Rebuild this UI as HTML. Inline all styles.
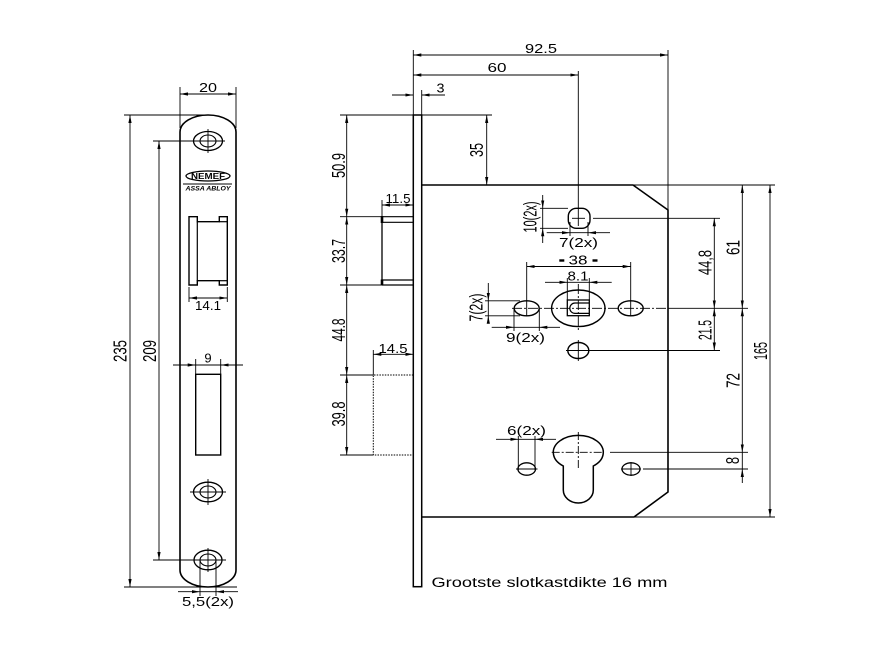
<!DOCTYPE html>
<html><head><meta charset="utf-8"><style>
html,body{margin:0;padding:0;background:#fff;}
svg{display:block;}
text{font-family:"Liberation Sans","DejaVu Sans",sans-serif;fill:#000;stroke:none;}
</style></head><body>
<svg width="890" height="650" viewBox="0 0 890 650" xmlns="http://www.w3.org/2000/svg">
<defs>
<marker id="a" viewBox="0 0 8 4" refX="8" refY="2" markerWidth="8" markerHeight="4" markerUnits="userSpaceOnUse" orient="auto-start-reverse"><path d="M0,0.4 L8,2 L0,3.6 Z" fill="#000"/></marker>
</defs>
<rect width="890" height="650" fill="#fff"/>
<g stroke="#000" fill="none" stroke-width="0.9">

<!-- LEFT FACEPLATE -->
<path d="M180,132 A28,17 0 0,1 236,132 V570 A28,17 0 0,1 180,570 Z" stroke-width="1.6"/>
<!-- 20 dim -->
<line x1="180" y1="87" x2="180" y2="128"/>
<line x1="236" y1="87" x2="236" y2="128"/>
<line x1="180" y1="94" x2="236" y2="94" marker-start="url(#a)" marker-end="url(#a)"/>
<!-- screws -->
<ellipse cx="208" cy="141" rx="14.5" ry="9.5" stroke-width="1.3"/>
<ellipse cx="208" cy="141" rx="8" ry="6" stroke-width="1.1"/>
<line x1="192" y1="141" x2="225" y2="141"/><line x1="208" y1="129" x2="208" y2="153"/>
<ellipse cx="208" cy="492" rx="14.5" ry="9.8" stroke-width="1.3"/>
<ellipse cx="208" cy="492" rx="8" ry="6" stroke-width="1.1"/>
<line x1="190" y1="492" x2="226" y2="492"/><line x1="208" y1="479" x2="208" y2="505"/>
<ellipse cx="208" cy="560" rx="14" ry="9.8" stroke-width="1.3"/>
<ellipse cx="208" cy="560" rx="8" ry="6" stroke-width="1.1"/>
<line x1="208" y1="548" x2="208" y2="572"/>
<!-- NEMEF logo -->
<ellipse cx="208" cy="176" rx="22" ry="5" stroke-width="1.3"/>
<line x1="183" y1="184" x2="232" y2="184" stroke-width="1"/>
<!-- latch opening -->
<path d="M189,216.7 H197.3 V221.7 H219.3 V216.7 H227.3 V285 H219.3 V280.7 H197.3 V285 H189 Z" stroke-width="1.4"/>
<line x1="197.3" y1="221.7" x2="197.3" y2="280.7" stroke-width="1.2"/>
<line x1="219.3" y1="221.7" x2="227.3" y2="221.7" stroke-width="1.2"/>
<line x1="219.3" y1="280.7" x2="227.3" y2="280.7" stroke-width="1.2"/>
<!-- 14.1 -->
<line x1="189" y1="287" x2="189" y2="302"/>
<line x1="227.3" y1="287" x2="227.3" y2="302"/>
<line x1="189" y1="298" x2="227.3" y2="298" marker-start="url(#a)" marker-end="url(#a)"/>
<!-- deadbolt opening -->
<rect x="195.7" y="374.3" width="25" height="80.7" stroke-width="1.4"/>
<line x1="195.7" y1="359" x2="195.7" y2="374"/>
<line x1="220.7" y1="359" x2="220.7" y2="374"/>
<line x1="173" y1="365" x2="195.7" y2="365" marker-end="url(#a)"/>
<line x1="243" y1="365" x2="220.7" y2="365" marker-end="url(#a)"/>
<line x1="195.7" y1="365" x2="220.7" y2="365"/>
<!-- 235 -->
<line x1="124" y1="115" x2="210" y2="115"/>
<line x1="124" y1="587" x2="237" y2="587"/>
<line x1="130" y1="115" x2="130" y2="587" marker-start="url(#a)" marker-end="url(#a)"/>
<!-- 209 -->
<line x1="153" y1="141" x2="192" y2="141"/>
<line x1="153" y1="560" x2="226" y2="560"/>
<line x1="159" y1="141" x2="159" y2="560" marker-start="url(#a)" marker-end="url(#a)"/>
<!-- 5,5(2x) -->
<line x1="200" y1="560" x2="200" y2="596"/>
<line x1="216" y1="560" x2="216" y2="596"/>
<line x1="178" y1="591.7" x2="200" y2="591.7" marker-end="url(#a)"/>
<line x1="238" y1="591.7" x2="216" y2="591.7" marker-end="url(#a)"/>
<line x1="200" y1="591.7" x2="216" y2="591.7"/>

<!-- RIGHT: faceplate side view -->
<rect x="413.3" y="115" width="8.4" height="471.7" stroke-width="1.5"/>
<!-- lock case -->
<path d="M421.7,185 H633 L668,210 V492 L634,517 H421.7" stroke-width="1.6"/>
<!-- latch bolt -->
<line x1="382" y1="216.7" x2="413.3" y2="216.7" stroke-width="1.2"/>
<line x1="382" y1="222.3" x2="413.3" y2="222.3" stroke-width="1.2"/>
<line x1="382" y1="280" x2="413.3" y2="280" stroke-width="1.2"/>
<line x1="382" y1="285" x2="413.3" y2="285" stroke-width="1.2"/>
<line x1="382" y1="216.7" x2="382" y2="285" stroke-width="1.3"/>
<line x1="382" y1="216" x2="382" y2="223" stroke-width="2.6"/>
<line x1="382" y1="279.5" x2="382" y2="285.5" stroke-width="2.6"/>
<!-- deadbolt dotted -->
<path d="M413.3,375 H373.3 V455 H413.3" stroke-dasharray="1.5,1.2" stroke-width="1"/>
<!-- left dims -->
<line x1="340" y1="115" x2="413.3" y2="115"/>
<line x1="421.7" y1="115" x2="492" y2="115"/>
<line x1="340" y1="216.7" x2="382" y2="216.7"/>
<line x1="340" y1="285" x2="382" y2="285"/>
<line x1="340" y1="375" x2="373.3" y2="375"/>
<line x1="340" y1="455" x2="373.3" y2="455"/>
<line x1="346.7" y1="115" x2="346.7" y2="216.7" marker-start="url(#a)" marker-end="url(#a)"/>
<line x1="346.7" y1="216.7" x2="346.7" y2="285" marker-start="url(#a)" marker-end="url(#a)"/>
<line x1="346.7" y1="285" x2="346.7" y2="375" marker-start="url(#a)" marker-end="url(#a)"/>
<line x1="346.7" y1="375" x2="346.7" y2="455" marker-start="url(#a)" marker-end="url(#a)"/>
<!-- 11.5 -->
<line x1="382" y1="200" x2="382" y2="216.7"/>
<line x1="382" y1="205" x2="413.3" y2="205" marker-start="url(#a)" marker-end="url(#a)"/>
<!-- 14.5 -->
<line x1="373.3" y1="350" x2="373.3" y2="375"/>
<line x1="373.3" y1="354.3" x2="413.3" y2="354.3" marker-start="url(#a)" marker-end="url(#a)"/>
<!-- 3 -->
<line x1="421.7" y1="90" x2="421.7" y2="115"/>
<line x1="413.3" y1="50" x2="413.3" y2="115"/>
<line x1="392" y1="95" x2="413.3" y2="95" marker-end="url(#a)"/>
<line x1="445" y1="95" x2="421.7" y2="95" marker-end="url(#a)"/>
<!-- 92.5 -->
<line x1="668" y1="50" x2="668" y2="210"/>
<line x1="413.3" y1="55" x2="668" y2="55" marker-start="url(#a)" marker-end="url(#a)"/>
<!-- 60 -->
<line x1="578.3" y1="71" x2="578.3" y2="226"/>
<line x1="413.3" y1="75" x2="578.3" y2="75" marker-start="url(#a)" marker-end="url(#a)"/>
<!-- 35 -->
<line x1="486.7" y1="115" x2="486.7" y2="185" marker-start="url(#a)" marker-end="url(#a)"/>

<!-- top hole -->
<rect x="568.3" y="208.3" width="21.7" height="20" rx="8" ry="8" stroke-width="1.4"/>
<line x1="572" y1="218.3" x2="585" y2="218.3"/>
<line x1="593" y1="218.3" x2="720" y2="218.3"/>
<!-- 10(2x) -->
<line x1="540" y1="208.3" x2="568" y2="208.3"/>
<line x1="540" y1="228.3" x2="568" y2="228.3"/>
<line x1="542.7" y1="195" x2="542.7" y2="208.3" marker-end="url(#a)"/>
<line x1="542.7" y1="243" x2="542.7" y2="228.3" marker-end="url(#a)"/>
<line x1="542.7" y1="208.3" x2="542.7" y2="228.3"/>
<!-- 7(2x) top -->
<line x1="570" y1="222" x2="570" y2="236"/>
<line x1="588" y1="222" x2="588" y2="236"/>
<line x1="546.7" y1="232.7" x2="570" y2="232.7" marker-end="url(#a)"/>
<line x1="610" y1="232.7" x2="588" y2="232.7" marker-end="url(#a)"/>
<line x1="570" y1="232.7" x2="588" y2="232.7"/>

<!-- 38 -->
<line x1="526.7" y1="262" x2="526.7" y2="316"/>
<line x1="630.7" y1="262" x2="630.7" y2="316"/>
<line x1="526.7" y1="266.5" x2="630.7" y2="266.5" marker-start="url(#a)" marker-end="url(#a)"/>
<!-- 8.1 -->
<line x1="567.3" y1="278" x2="567.3" y2="300"/>
<line x1="589.3" y1="278" x2="589.3" y2="300"/>
<line x1="545" y1="282.3" x2="567.3" y2="282.3" marker-end="url(#a)"/>
<line x1="611.7" y1="282.3" x2="589.3" y2="282.3" marker-end="url(#a)"/>
<line x1="567.3" y1="282.3" x2="589.3" y2="282.3"/>
<!-- spindle -->
<ellipse cx="578.3" cy="308.3" rx="26.7" ry="18.3" stroke-width="1.4"/>
<rect x="567.3" y="300" width="22" height="15.7" stroke-width="1.3"/>
<path d="M589.3,303 H575 A5.2,5.2 0 0,0 575,313.4 H589.3" stroke-width="1.2"/>
<line x1="512" y1="308.3" x2="668" y2="308.3" stroke-dasharray="10,2,2,2"/>
<line x1="668" y1="308.3" x2="748" y2="308.3"/>
<line x1="578.3" y1="284" x2="578.3" y2="332" stroke-dasharray="10,2,2,2"/>
<!-- slots -->
<ellipse cx="526.7" cy="308.3" rx="12.5" ry="7.5" stroke-width="1.4"/>
<ellipse cx="630.7" cy="308.3" rx="12.5" ry="7.5" stroke-width="1.4"/>
<!-- 7(2x) left -->
<line x1="485" y1="300.8" x2="520" y2="300.8"/>
<line x1="485" y1="315.8" x2="520" y2="315.8"/>
<line x1="488.3" y1="283" x2="488.3" y2="300.8" marker-end="url(#a)"/>
<line x1="488.3" y1="322" x2="488.3" y2="315.8" marker-end="url(#a)"/>
<line x1="488.3" y1="300.8" x2="488.3" y2="315.8"/>
<!-- 9(2x) -->
<line x1="514" y1="308" x2="514" y2="331"/>
<line x1="539.3" y1="308" x2="539.3" y2="331"/>
<line x1="491.7" y1="327.3" x2="514" y2="327.3" marker-end="url(#a)"/>
<line x1="560" y1="327.3" x2="539.3" y2="327.3" marker-end="url(#a)"/>
<line x1="514" y1="327.3" x2="539.3" y2="327.3"/>
<!-- lower hole -->
<ellipse cx="578.3" cy="350.5" rx="10.5" ry="8" stroke-width="1.4"/>
<line x1="578.3" y1="340" x2="578.3" y2="361"/>
<line x1="566" y1="350.5" x2="720" y2="350.5"/>

<!-- cylinder -->
<path d="M563.3,466 A25,17 0 1,1 593.3,466 L593.3,490 A15,13 0 0,1 563.3,490 Z" stroke-width="1.5"/>
<line x1="551.7" y1="452.3" x2="604" y2="452.3" stroke-dasharray="8,2,2,2"/>
<line x1="610" y1="452.3" x2="748" y2="452.3"/>
<line x1="578.3" y1="432" x2="578.3" y2="470" stroke-dasharray="8,2,2,2"/>
<!-- small holes -->
<ellipse cx="526.7" cy="469" rx="8.8" ry="6.2" stroke-width="1.3"/>
<line x1="516" y1="469" x2="537.5" y2="469"/>
<ellipse cx="631" cy="469" rx="9" ry="6.2" stroke-width="1.3"/>
<line x1="621" y1="469" x2="641" y2="469"/><line x1="631" y1="462" x2="631" y2="476"/>
<line x1="643" y1="469" x2="748" y2="469"/>
<!-- 6(2x) -->
<line x1="518.3" y1="436" x2="518.3" y2="470"/>
<line x1="535" y1="436" x2="535" y2="470"/>
<line x1="496" y1="439.3" x2="518.3" y2="439.3" marker-end="url(#a)"/>
<line x1="556" y1="439.3" x2="535" y2="439.3" marker-end="url(#a)"/>
<line x1="518.3" y1="439.3" x2="535" y2="439.3"/>

<!-- right dims -->
<line x1="633" y1="185" x2="775" y2="185"/>
<line x1="634" y1="517" x2="775" y2="517"/>
<line x1="770" y1="185" x2="770" y2="517" marker-start="url(#a)" marker-end="url(#a)"/>
<line x1="742.3" y1="185" x2="742.3" y2="308.3" marker-start="url(#a)" marker-end="url(#a)"/>
<line x1="742.3" y1="308.3" x2="742.3" y2="452.3" marker-start="url(#a)" marker-end="url(#a)"/>
<line x1="742.3" y1="483" x2="742.3" y2="469" marker-end="url(#a)"/>
<line x1="742.3" y1="452.3" x2="742.3" y2="469"/>
<line x1="714.3" y1="218.3" x2="714.3" y2="308.3" marker-start="url(#a)" marker-end="url(#a)"/>
<line x1="714.3" y1="308.3" x2="714.3" y2="350.5" marker-start="url(#a)" marker-end="url(#a)"/>
</g>

<!-- bars of 38 -->
<rect x="559.3" y="259.3" width="5" height="2.4" fill="#000"/>
<rect x="592.5" y="259.3" width="5" height="2.4" fill="#000"/>

<!-- TEXTS -->
<g font-size="13" text-anchor="middle">
<text x="208" y="92" textLength="18" lengthAdjust="spacingAndGlyphs">20</text>
<text x="208" y="310" textLength="26" lengthAdjust="spacingAndGlyphs">14.1</text>
<text x="208" y="362.5">9</text>
<text x="208" y="606" textLength="52" lengthAdjust="spacingAndGlyphs">5,5(2x)</text>
<text x="541" y="53" textLength="32" lengthAdjust="spacingAndGlyphs">92.5</text>
<text x="497" y="72" textLength="19" lengthAdjust="spacingAndGlyphs">60</text>
<text x="440.5" y="92.5" textLength="8" lengthAdjust="spacingAndGlyphs">3</text>
<text x="398" y="203" textLength="25" lengthAdjust="spacingAndGlyphs">11.5</text>
<text x="393" y="353" textLength="29" lengthAdjust="spacingAndGlyphs">14.5</text>
<text x="578.5" y="247" textLength="39" lengthAdjust="spacingAndGlyphs">7(2x)</text>
<text x="578" y="264.5" textLength="19" lengthAdjust="spacingAndGlyphs">38</text>
<text x="578" y="280.5" textLength="21" lengthAdjust="spacingAndGlyphs">8.1</text>
<text x="525.5" y="342" textLength="39" lengthAdjust="spacingAndGlyphs">9(2x)</text>
<text x="526.5" y="435" textLength="39" lengthAdjust="spacingAndGlyphs">6(2x)</text>

<text transform="translate(126.5,351) scale(1.3,1) rotate(-90)" font-size="14" textLength="22" lengthAdjust="spacingAndGlyphs">235</text>
<text transform="translate(156,351) scale(1.3,1) rotate(-90)" font-size="14" textLength="22" lengthAdjust="spacingAndGlyphs">209</text>
<text transform="translate(483,150) scale(1.4,1) rotate(-90)" textLength="14" lengthAdjust="spacingAndGlyphs">35</text>
<text transform="translate(345,165.5) scale(1.4,1) rotate(-90)" textLength="25" lengthAdjust="spacingAndGlyphs">50.9</text>
<text transform="translate(345,251) scale(1.4,1) rotate(-90)" textLength="24" lengthAdjust="spacingAndGlyphs">33.7</text>
<text transform="translate(345,330) scale(1.4,1) rotate(-90)" textLength="23" lengthAdjust="spacingAndGlyphs">44.8</text>
<text transform="translate(345,414) scale(1.4,1) rotate(-90)" textLength="25" lengthAdjust="spacingAndGlyphs">39.8</text>
<text transform="translate(536.5,217) scale(1.4,1) rotate(-90)" textLength="31" lengthAdjust="spacingAndGlyphs">10(2x)</text>
<text transform="translate(482.5,307.5) scale(1.4,1) rotate(-90)" textLength="28" lengthAdjust="spacingAndGlyphs">7(2x)</text>
<text transform="translate(739.5,247.5) scale(1.4,1) rotate(-90)" textLength="15" lengthAdjust="spacingAndGlyphs">61</text>
<text transform="translate(711.5,262.5) scale(1.4,1) rotate(-90)" textLength="25" lengthAdjust="spacingAndGlyphs">44,8</text>
<text transform="translate(711.5,330) scale(1.4,1) rotate(-90)" textLength="20" lengthAdjust="spacingAndGlyphs">21.5</text>
<text transform="translate(739.5,380.5) scale(1.4,1) rotate(-90)" textLength="15" lengthAdjust="spacingAndGlyphs">72</text>
<text transform="translate(767,351) scale(1.4,1) rotate(-90)" textLength="18" lengthAdjust="spacingAndGlyphs">165</text>
<text transform="translate(739,460.5) scale(1.4,1) rotate(-90)">8</text>

<text x="208" y="179" font-size="8" font-weight="bold" textLength="34" lengthAdjust="spacingAndGlyphs">NEMEF</text>
<text x="208" y="190.5" font-size="6.5" font-weight="bold" font-style="italic" textLength="45" lengthAdjust="spacingAndGlyphs">ASSA ABLOY</text>
</g>
<text x="431.5" y="587" font-size="13.5" textLength="236" lengthAdjust="spacingAndGlyphs">Grootste slotkastdikte 16 mm</text>
</svg>
</body></html>
